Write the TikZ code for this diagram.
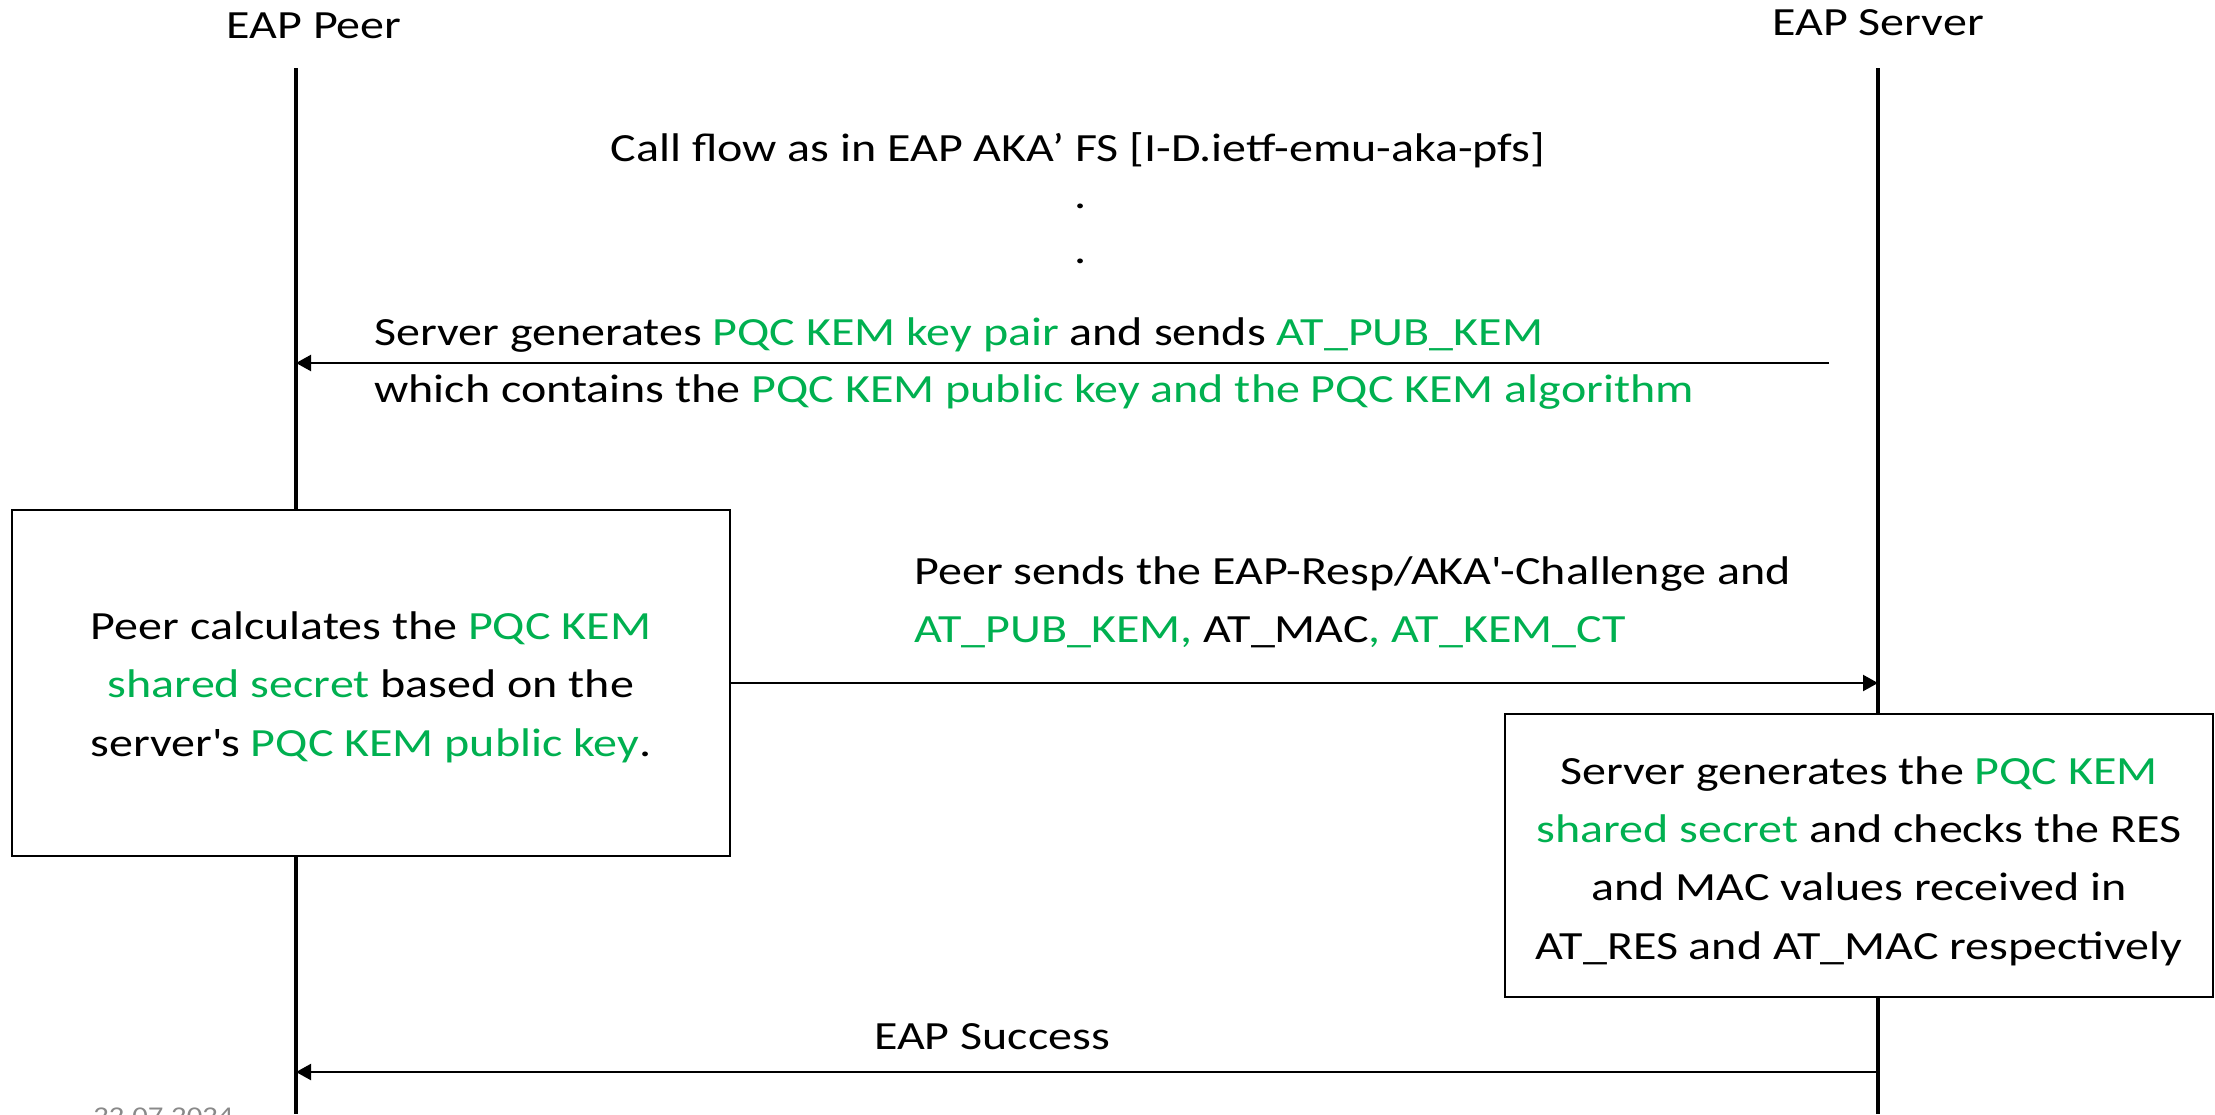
\documentclass[tikz,border=0pt]{standalone}
\usepackage{fontspec}
\setmainfont{Carlito}[FakeStretch=1.2]
\usetikzlibrary{arrows.meta}
\definecolor{kemgreen}{HTML}{00B050}
\definecolor{footgray}{HTML}{898989}
\newcommand{\kem}[1]{\textcolor{kemgreen}{#1}}
\newcommand{\topgap}[1]{\rule{0pt}{\dimexpr\fontcharht\font`\l+#1\relax}}

\begin{document}
\begin{tikzpicture}[x=0.5pt,y=-0.5pt]
		\newcommand{\peerx}{296}
		\newcommand{\servx}{1878}
		\newcommand{\lifetop}{68}
		\newcommand{\lifebot}{1114} % lifelines run off the bottom

		% set the styles of lines, arrows and texts
		\tikzset{
			lifeline/.style={line width=1.6pt},
			msg/.style={
				line width=1.1pt,
				-{Triangle[length=7.5pt,width=8pt]}
				},
			txt/.style={font=\fontsize{20}{29.2}\selectfont, inner sep=0pt, anchor=base},
			actbox/.style={draw, line width=1pt, fill=white, align=center,
				inner sep=0pt, font=\fontsize{20}{29.2}\selectfont}
		}

		\useasboundingbox (0,0) rectangle (2215,1114);

		% actors and lifelines
		\node[txt, font=\fontsize{20}{22}\selectfont] (peer) at (314,38) {EAP Peer};
		\node[txt, font=\fontsize{20}{22}\selectfont] (serv) at (\servx,35) {EAP Server};
		\coordinate (peertop) at (\peerx,\lifetop);
		\coordinate (peerbot) at (\peerx,\lifebot);
		\coordinate (servtop) at (\servx,\lifetop);
		\coordinate (servbot) at (\servx,\lifebot);
		\draw[lifeline] (peertop) -- (peerbot);
		\draw[lifeline] (servtop) -- (servbot);

		% call flow reference
		\node[txt] (flow) at (1078,161) {Call flow as in EAP AKA’ FS [I-D.ietf-emu-aka-pfs]};
		\node[txt] (dota) at (1081,208) {.};
		\node[txt] (dotb) at (1081,263) {.};

		% server sends the public key
		\node[txt, anchor=base west] (msga) at (374,345) {Server generates \kem{PQC KEM key pair} and sends \kem{AT\_PUB\_KEM}};
		\node[txt, anchor=base west] (msgb) at (374,402) {which contains the \kem{PQC KEM public key and the PQC KEM algorithm}};
		\coordinate (keys) at (1829,363);
		\coordinate (keye) at (\peerx,363);
		\draw[msg] (keys) -- (keye);

		% peer box
		\node[actbox, minimum width=359pt, minimum height=173pt] (pbox) at (371,683)
			{\topgap{4pt}Peer calculates the \kem{PQC KEM}\\
			\kem{shared secret} based on the\\
			server\textquotesingle s \kem{PQC KEM public key}.};

		% peer sends the challenge response
		\node[txt, anchor=base west] (msgc) at (914,584) {Peer sends the EAP-Resp/AKA\textquotesingle-Challenge and};
		\node[txt, anchor=base west] (msgd) at (914,642) {\kem{AT\_PUB\_KEM,} AT\_MAC\kem{, AT\_KEM\_CT}};
		\coordinate (resp) at (\servx,683);
		\draw[msg] (pbox.east) -- (resp);

		% server box
		\node[actbox, minimum width=354pt, minimum height=141.5pt] (sbox) at (1859,855.5)
			{\topgap{5.6pt}Server generates the \kem{PQC KEM}\\
			\kem{shared secret} and checks the RES\\
			and MAC values received in\\
			AT\_RES and AT\_MAC respectively};

		% success
		\node[txt] (succ) at (992,1049) {EAP Success};
		\coordinate (succs) at (\servx,1072);
		\coordinate (succe) at (\peerx,1072);
		\draw[msg] (succs) -- (succe);

		% footer date, cut by the page edge
		\node[txt, anchor=base west, font=\fontsize{12.8}{14}\selectfont, text=footgray] (date) at (93,1124) {22.07.2024};

\end{tikzpicture}
\end{document}
